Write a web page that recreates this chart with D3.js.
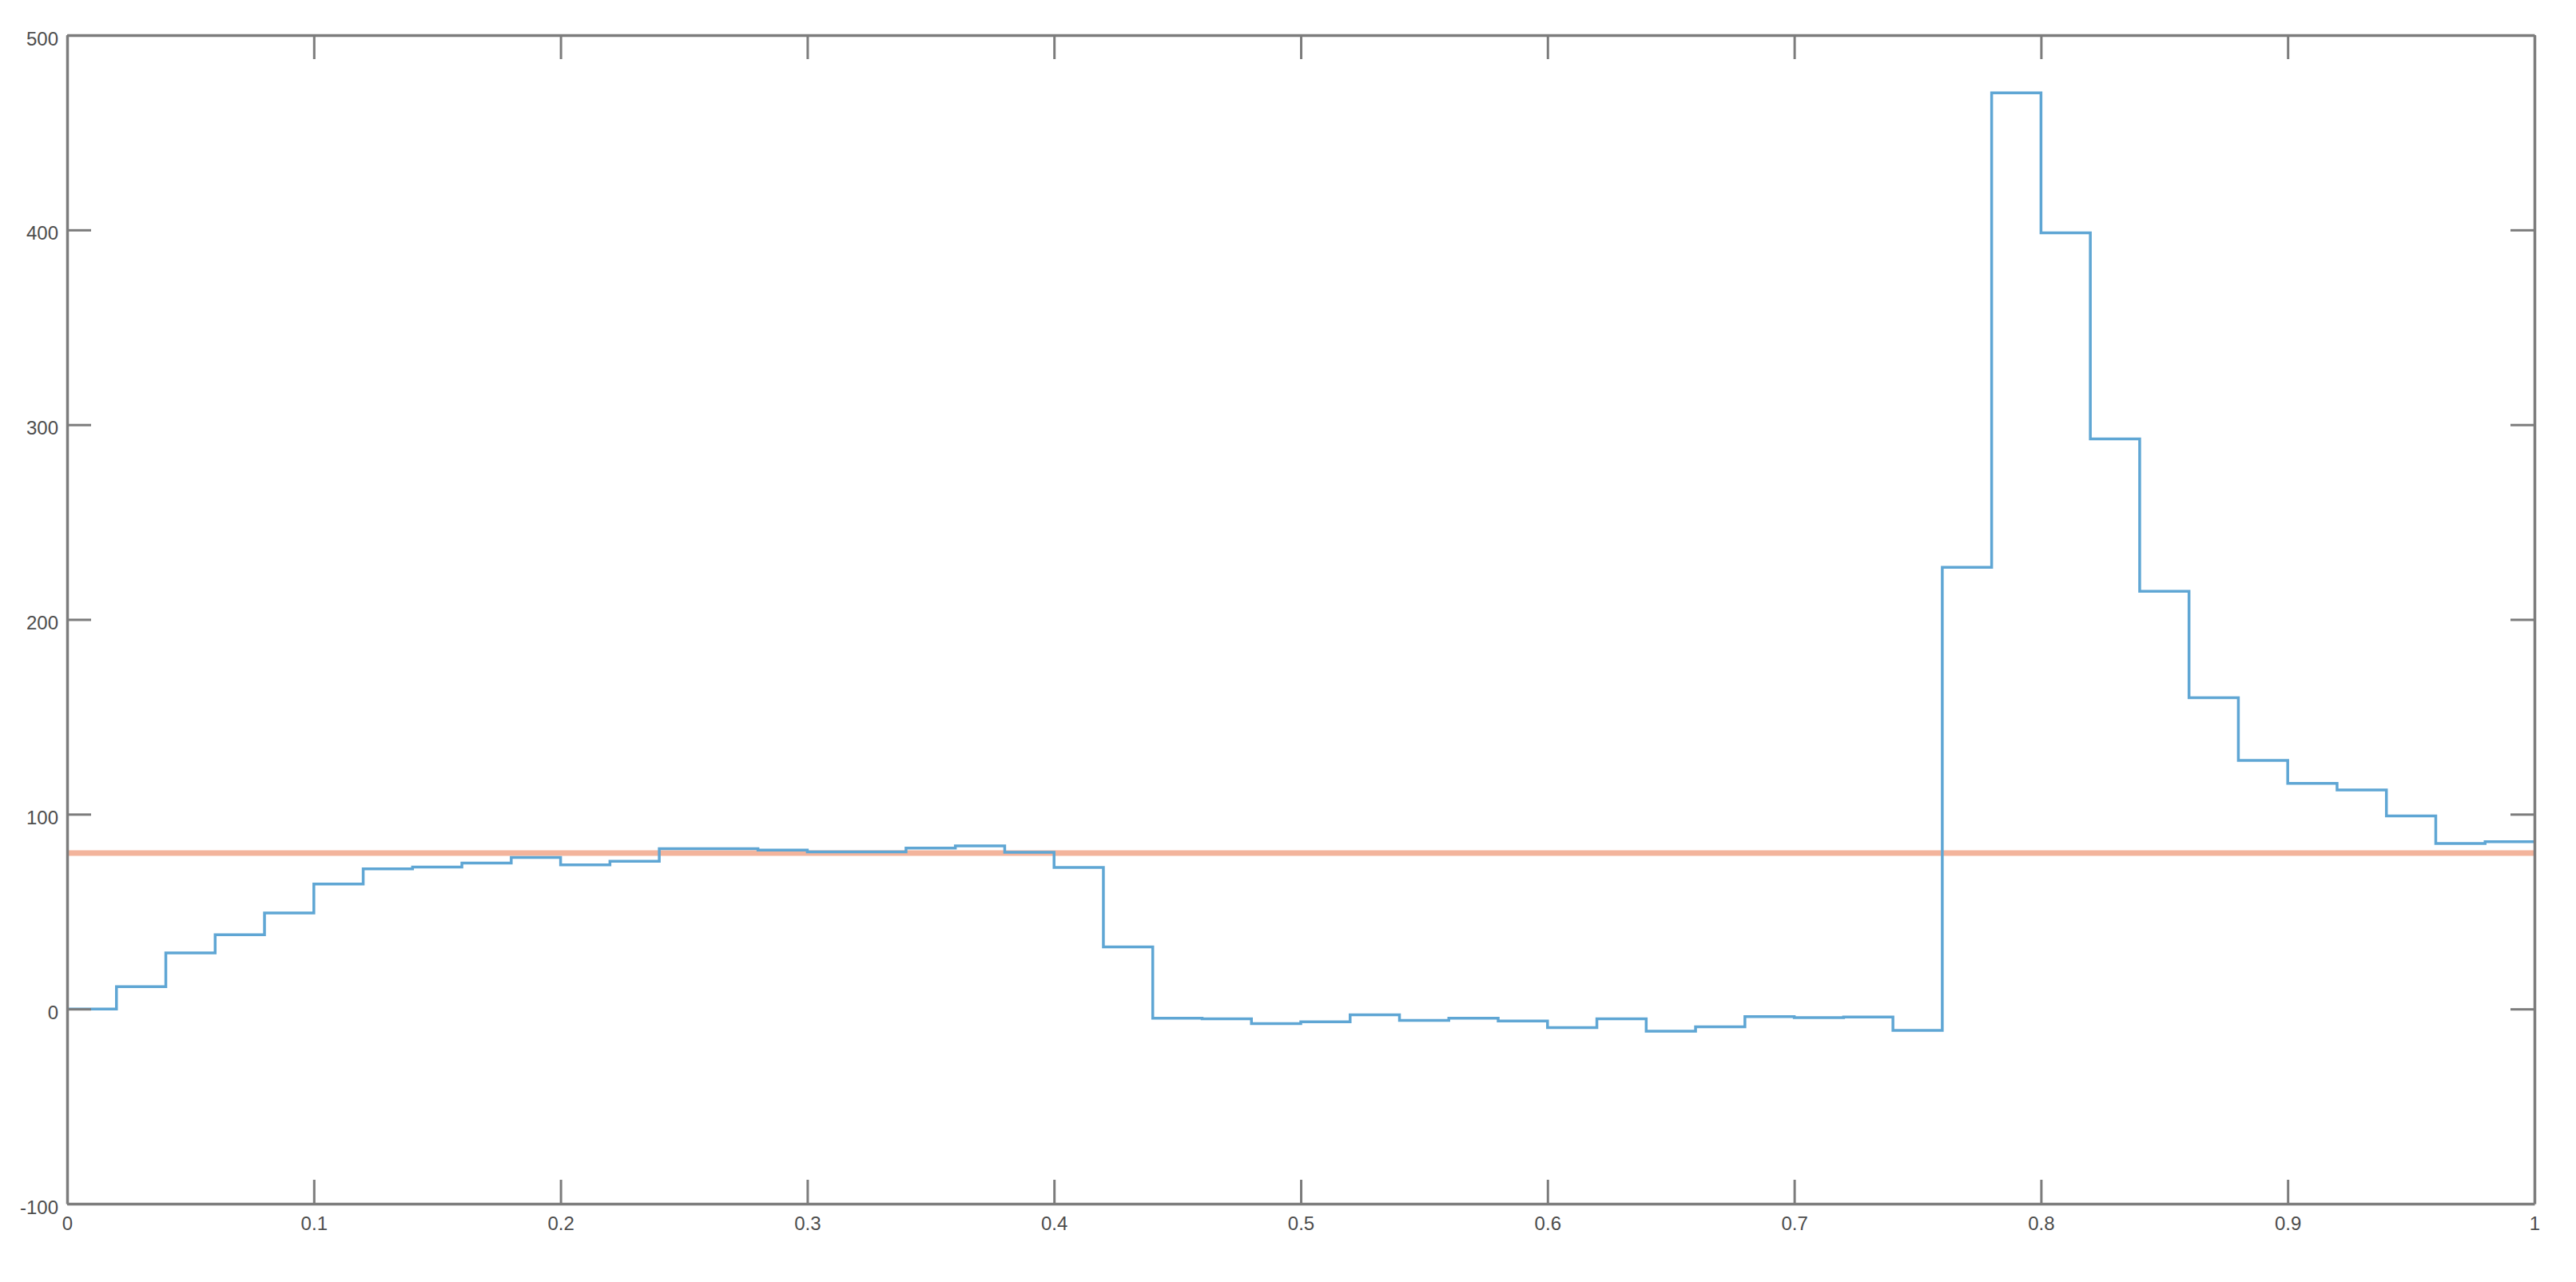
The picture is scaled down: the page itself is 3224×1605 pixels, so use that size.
<!DOCTYPE html>
<html>
<head>
<meta charset="utf-8">
<script src="https://cdn.jsdelivr.net/npm/d3@7"></script>
<style>
  html, body { margin: 0; padding: 0; background: #ffffff; }
  svg { display: block; }
</style>
</head>
<body>
<svg id="chart" width="3224" height="1605"></svg>
<script>
// ---- data ----
const xValues = [0,0.02,0.04,0.06,0.08,0.10,0.12,0.14,0.16,0.18,0.20,0.22,0.24,0.26,0.28,0.30,0.32,0.34,0.36,0.38,0.40,0.42,0.44,0.46,0.48,0.50,0.52,0.54,0.56,0.58,0.60,0.62,0.64,0.66,0.68,0.70,0.72,0.74,0.76,0.78,0.80,0.82,0.84,0.86,0.88,0.90,0.92,0.94,0.96,0.98,1.00];
const stairValues = [0, 11.4, 28.8, 38.1, 49.3, 64.1, 71.9, 72.9, 74.9, 77.8, 74.0, 75.8, 82.3, 82.3, 81.6, 80.7, 80.7, 82.6, 83.7, 80.5, 72.7, 31.9, -4.8, -5.1, -7.5, -6.6, -3.0, -5.9, -4.8, -6.2, -9.6, -5.1, -11.4, -9.2, -3.9, -4.4, -4.1, -11.0, 226.8, 470.4, 398.5, 292.7, 214.5, 159.8, 127.6, 115.8, 112.4, 99.1, 85.0, 85.9, 85.9];
const referenceLevel = [80, 80];
const referenceX = [0, 1];
const xTicks = [0, 0.1, 0.2, 0.3, 0.4, 0.5, 0.6, 0.7, 0.8, 0.9, 1];
const yTicks = [-100, 0, 100, 200, 300, 400, 500];

// ---- layout ----
const plotLeft = 84, plotRight = 3172, plotTop = 44, plotBottom = 1507;
const axisColor = "#7c7c7c";
const labelColor = "#4d4d4d";
const tickLen = 30;

const svg = d3.select("#chart");
const x = d3.scaleLinear().domain([0, 1]).range([plotLeft, plotRight]);
const y = d3.scaleLinear().domain([-100, 500]).range([plotBottom, plotTop]);

// reference (orange) line
const refLine = d3.line().x((d, i) => x(referenceX[i])).y(d => y(d));
svg.append("path")
  .datum(referenceLevel)
  .attr("d", refLine)
  .attr("fill", "none")
  .attr("stroke", "#f3b49c")
  .attr("stroke-width", 7);

// stairs (blue)
const stairs = d3.line()
  .x((d, i) => x(xValues[i]))
  .y(d => y(d))
  .curve(d3.curveStepAfter);
svg.append("path")
  .datum(stairValues)
  .attr("d", stairs)
  .attr("fill", "none")
  .attr("stroke", "#5fa6d4")
  .attr("stroke-width", 3.5)
  .attr("stroke-linejoin", "miter");

// axes
const fmtX = d => d3.format("~g")(d);
const fmtY = d => String(d);

function styleAxis(g, showLabels) {
  g.select(".domain").attr("stroke", axisColor).attr("stroke-width", 3.5);
  g.selectAll(".tick line").attr("stroke", axisColor).attr("stroke-width", 3);
  g.selectAll(".tick text")
    .attr("fill", labelColor)
    .style("font-family", "'Liberation Sans', Arial, sans-serif")
    .style("font-size", "24px");
  if (!showLabels) g.selectAll(".tick text").remove();
}

svg.append("g")
  .attr("transform", `translate(0,${plotBottom})`)
  .call(d3.axisBottom(x).tickValues(xTicks).tickFormat(fmtX).tickSize(-tickLen).tickSizeOuter(0).tickPadding(16))
  .call(g => styleAxis(g, true));

svg.append("g")
  .attr("transform", `translate(0,${plotTop})`)
  .call(d3.axisTop(x).tickValues(xTicks).tickFormat(fmtX).tickSize(-tickLen).tickSizeOuter(0))
  .call(g => styleAxis(g, false));

svg.append("g")
  .attr("transform", `translate(${plotLeft},0)`)
  .call(d3.axisLeft(y).tickValues(yTicks).tickFormat(fmtY).tickSize(-tickLen).tickSizeOuter(0).tickPadding(11))
  .call(g => styleAxis(g, true))
  .call(g => g.selectAll(".tick text").attr("dy", "0.5em"));

svg.append("g")
  .attr("transform", `translate(${plotRight},0)`)
  .call(d3.axisRight(y).tickValues(yTicks).tickFormat(fmtY).tickSize(-tickLen).tickSizeOuter(0))
  .call(g => styleAxis(g, false));
</script>
</body>
</html>
